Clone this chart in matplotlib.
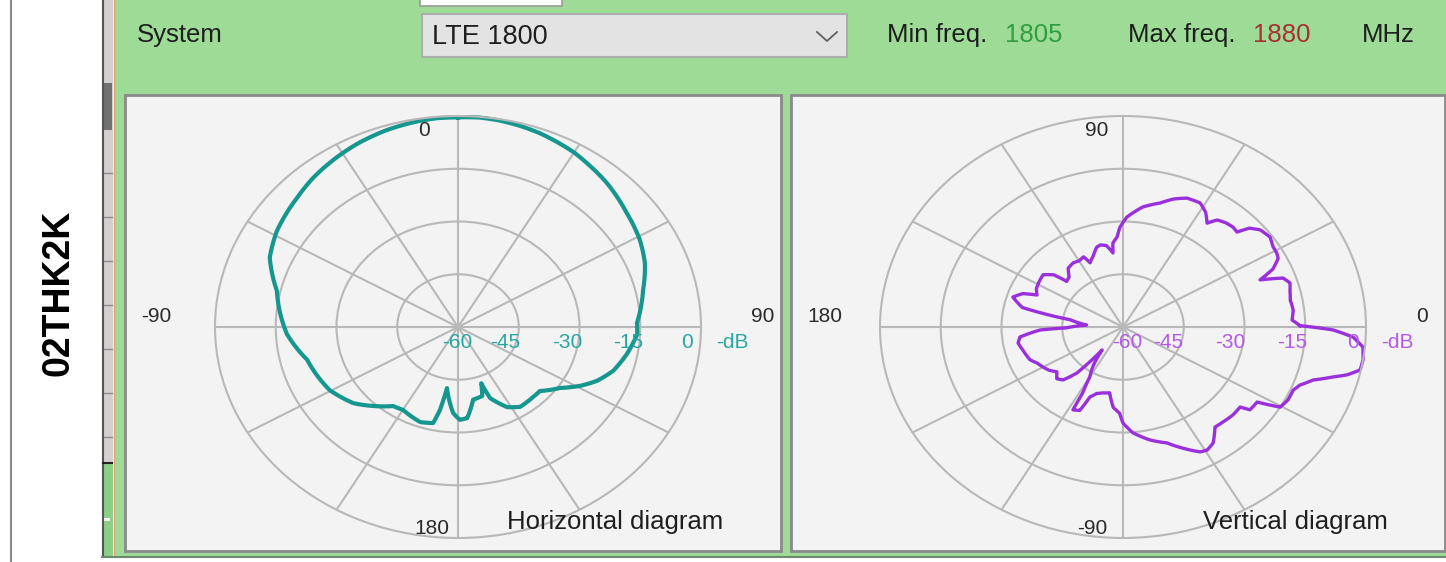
import numpy as np
import matplotlib.pyplot as plt
from matplotlib.patches import Rectangle

W, H = 1446, 562

# --- дані ---
antenna_name = '02THK2K'
system_name = 'LTE 1800'
min_freq = '1805'
max_freq = '1880'
db_labels = ['-60', '-45', '-30', '-15', '0']

# горизонтальна діаграма: кут за годинниковою від півночі, рівень у дБ
h_angle = [0, 5, 10, 15, 20, 25, 30, 35, 42, 47, 52, 61, 68.5, 77, 88.5, 92.6, 100.4,
           108, 114, 119, 124.5, 132, 137, 146, 152, 158.6, 160.3, 163, 169.8, 175,
           179, 182.8, 188.9, 190.7, 192.7, 199, 210, 215.5, 223, 230, 240.4, 256,
           267.3, 283, 293, 301.4, 312.7, 320, 328.3, 335, 342.6, 350, 355, 360]
h_db = [-0.4, -0.2, -0.4, -0.8, -1.3, -2, -2.7, -3.7, -5, -6.1, -7.2, -8.7, -10.4,
        -13.1, -15.8, -15.7, -17.6, -19.7, -22.4, -25.5, -29.4, -32.8, -32.8, -32.6,
        -34.2, -38.3, -43, -39.5, -39, -34, -33.6, -35.5, -42.4, -36, -32, -31.4,
        -32.8, -32.4, -29.3, -26.3, -23.6, -21.6, -17.7, -14.1, -9.5, -7.6, -5.9,
        -4.5, -3.2, -2.2, -1.3, -0.7, -0.4, -0.4]

# вертикальна діаграма: кут проти годинникової від сходу, рівень у дБ
v_angle = [0.5, 2.7, 6.6, 10.5, 14, 16.9, 19.4, 21.6, 24, 27, 29, 31.6, 35.2, 39.2,
           42, 43.8, 46.3, 49.5, 52.6, 54.9, 58, 61.7, 66.7, 71, 75.5, 81.8, 88.2,
           91.5, 93.3, 96, 96.7, 100, 103.4, 106, 110, 114, 116, 120, 124, 129, 133,
           137, 139, 143, 148, 153, 156.8, 159, 162.6, 165, 167.4, 169, 171, 176.5,
           181, 182.4, 186.4, 190, 194.8, 202, 206, 210, 214, 218, 222, 225.5, 229,
           231.8, 236, 240, 242, 242.3, 245.8, 247.7, 251, 255, 260, 264, 268, 270,
           274.7, 281.7, 288.2, 298.2, 300.7, 304, 308.6, 312.5, 317.4, 321.8, 323.1,
           327.2, 329.6, 333, 336.9, 339.3, 342.2, 344.7, 346.2, 348.2, 351.1, 354.5,
           357.1, 359.1, 360.5]
v_db = [-16.3, -18.2, -17.7, -18, -17.5, -16.9, -18.1, -23.6, -19.5, -17, -16.6, -16.5,
        -15.6, -16.3, -18, -21, -20.7, -21, -21.7, -23.9, -21.5, -19.9, -20.1, -21.5,
        -23.6, -25.5, -28.7, -31.6, -34.4, -36, -38.8, -36.5, -36, -36.4, -38.5, -40,
        -37.8, -38.3, -38, -38.5, -40.5, -41, -37.4, -35.3, -35.6, -36, -36.9, -33.5,
        -31.5, -33, -34.5, -40, -46.8, -51, -46, -39.5, -34.4, -33.7, -34.4, -35.2,
        -36.5, -37.2, -38, -39.3, -38, -38.9, -42.7, -51.7, -47, -43.6, -38.8, -33.4,
        -34, -38.5, -40, -40.6, -41, -37, -35.5, -32.7, -29.8, -27.2, -25.3, -19.7,
        -19.3, -20.2, -23.6, -23.4, -23.1, -23.2, -20.8, -20.6, -15, -14.3, -14.3,
        -13.3, -10.7, -6.2, -3, -0.2, 0, -0.5, -3.1, -8.2, -16.3]

plt.rcParams['font.family'] = ['Liberation Sans', 'DejaVu Sans']

fig = plt.figure(figsize=(W / 100, H / 100), dpi=100)

# фон у піксельних координатах
bg = fig.add_axes([0, 0, 1, 1], zorder=0)
bg.set_xlim(0, W)
bg.set_ylim(H, 0)
bg.axis('off')

fg = fig.add_axes([0, 0, 1, 1], zorder=5)
fg.set_xlim(0, W)
fg.set_ylim(H, 0)
fg.axis('off')
fg.patch.set_alpha(0)


def box(x0, y0, x1, y1, fc, ec='none', lw=0):
    bg.add_patch(Rectangle((x0, y0), x1 - x0, y1 - y0, facecolor=fc,
                           edgecolor=ec, linewidth=lw))


# ліва біла частина та смуга прокрутки
bg.plot([11, 11], [0, H], color='#8a8a8a', lw=1.5)
box(102, 0, 113, 557, '#d4d0d0')
bg.plot([102.5, 102.5], [0, 557], color='#555555', lw=1.5)
box(103, 83, 112, 130, '#707070')
for yy in np.arange(173, 460, 44):
    bg.plot([104, 112], [yy, yy], color='#8c8c8c', lw=1)
box(103, 464, 113, 557, '#8ccf86')
bg.plot([103, 112], [463, 463], color='#222222', lw=1.5)
box(104, 518, 110, 521, '#f4f4f4')
bg.plot([113.5, 113.5], [0, 557], color='#e0a070', lw=1)

# зелена панель
box(114, 0, W, 556, '#9ddb97')
bg.plot([102, W], [557, 557], color='#6e8a6e', lw=1.5)

# верхній рядок
box(420, -3, 562, 6, 'white', '#9a9a9a', 1.2)
box(422, 14, 847, 57, '#e3e3e3', '#adadad', 1.5)
bg.plot([817, 827, 837], [32, 41, 32], color='#606060', lw=1.3)

# панелі діаграм
box(125, 95, 781, 551, '#f3f3f3', '#8a8a8a', 2)
box(791, 95, W - 1, 551, '#f3f3f3', '#8a8a8a', 2)

txt = dict(fontsize=18.5, color='#1e1e1e', va='center', ha='left')
fg.text(137, 35, 'System', **txt)
fg.text(432, 37, system_name, **dict(txt, fontsize=19.5))
fg.text(887, 35, 'Min freq.', **txt)
fg.text(1005, 35, min_freq, **dict(txt, color='#2e9e3e'))
fg.text(1128, 35, 'Max freq.', **txt)
fg.text(1253, 35, max_freq, **dict(txt, color='#a83030'))
fg.text(1362, 35, 'MHz', **txt)

fg.text(58, 293, antenna_name, fontsize=27, fontweight='bold', rotation=90,
        ha='center', va='center', color='black')


def polar_ax(cx, cy, rx=243, ry=211):
    ax = fig.add_axes([(cx - rx) / W, 1 - (cy + ry) / H, 2 * rx / W, 2 * ry / H],
                      projection='polar', zorder=2)
    ax.set_aspect('auto')
    ax.patch.set_alpha(0)
    ax.set_ylim(-60, 0)
    ax.set_yticks([-45, -30, -15])
    ax.set_yticklabels([])
    ax.set_xticks(np.deg2rad(np.arange(0, 360, 30)))
    ax.set_xticklabels([])
    ax.tick_params(length=0)
    ax.grid(True, color='#b8b8b8', lw=1.5)
    ax.spines['polar'].set_color('#b8b8b8')
    ax.spines['polar'].set_linewidth(1.5)
    return ax


# горизонтальна діаграма
ax1 = polar_ax(458, 327)
ax1.set_theta_zero_location('N')
ax1.set_theta_direction(-1)
line1, = ax1.plot(np.deg2rad(h_angle), h_db, color='#15978f', lw=3, clip_on=False,
                  solid_joinstyle='round')
line1.get_path()._interpolation_steps = 12

# вертикальна діаграма
ax2 = polar_ax(1123, 327)
line2, = ax2.plot(np.deg2rad(v_angle), v_db, color='#9a30dc', lw=2.4, clip_on=False,
                  solid_joinstyle='round')
line2.get_path()._interpolation_steps = 6

lab = dict(fontsize=15, color='#2a2a2a', va='center', ha='center')
fg.text(424, 130, '0', **lab)
fg.text(156, 316, '-90', **lab)
fg.text(763, 316, '90', **lab)
fg.text(432, 528, '180', **lab)
fg.text(1097, 130, '90', **lab)
fg.text(825, 316, '180', **lab)
fg.text(1422, 316, '0', **lab)
fg.text(1092, 528, '-90', **lab)

for x, s in zip([457, 505, 567, 628, 687], db_labels):
    fg.text(x, 342, s, **dict(lab, color='#2aa6a2'))
fg.text(732, 342, '-dB', **dict(lab, color='#2aa6a2'))
for x, s in zip([1127, 1168, 1230, 1292, 1353], db_labels):
    fg.text(x, 342, s, **dict(lab, color='#b45ae6'))
fg.text(1397, 342, '-dB', **dict(lab, color='#b45ae6'))

fg.text(507, 522, 'Horizontal diagram', **txt)
fg.text(1203, 522, 'Vertical diagram', **txt)

fig.savefig('out.png', dpi=100)
